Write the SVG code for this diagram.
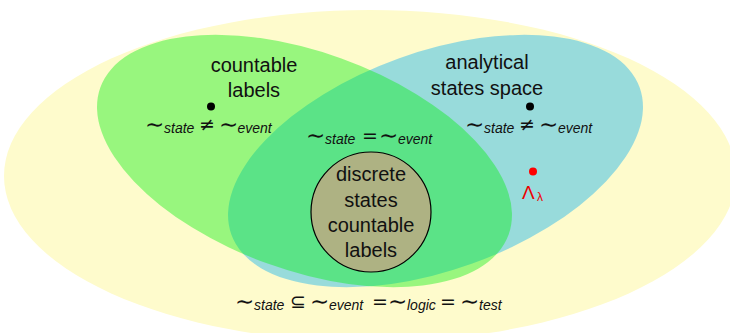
<svg xmlns="http://www.w3.org/2000/svg" width="730" height="333" viewBox="0 0 730 333">
<style>
text{font-family:"Liberation Sans","DejaVu Sans",sans-serif;fill:#111;}
.lbl{font-size:20px;text-anchor:middle;}
.op{font-family:"DejaVu Sans",sans-serif;font-size:19px;}
.t{font-family:"DejaVu Sans",sans-serif;font-size:23px;}
.sub{font-size:14px;font-style:italic;}
.dot{fill:#000;}
</style>
<rect width="730" height="333" fill="#ffffff"/>
<g id="universe"><ellipse cx="370" cy="176" rx="366" ry="166" fill="#fefbcc"/></g>
<g id="analytical"><ellipse cx="435.5" cy="161" rx="217" ry="109" transform="rotate(-19.8 435.5 161)" fill="rgb(0,172,242)" fill-opacity="0.4"/></g>
<g id="countable"><ellipse cx="304.5" cy="161" rx="217" ry="109" transform="rotate(19.8 304.5 161)" fill="rgb(0,240,10)" fill-opacity="0.4"/></g>
<g id="discrete">
<circle cx="371" cy="212" r="60" fill="#aeb283" stroke="#000" stroke-width="1.2"/>
<text class="lbl" x="371" y="181">discrete</text>
<text class="lbl" x="371" y="207">states</text>
<text class="lbl" x="371" y="232">countable</text>
<text class="lbl" x="371" y="257">labels</text>
</g>
<g id="countable-labels">
<text class="lbl" x="254" y="72">countable</text>
<text class="lbl" x="254" y="97">labels</text>
<circle class="dot" cx="211" cy="106.5" r="4"/>
<text><tspan class="t" x="145" y="132">∼</tspan><tspan class="sub" x="164" y="133">state</tspan><tspan class="op" x="199" y="131">≠</tspan><tspan class="t" x="219" y="132">∼</tspan><tspan class="sub" x="237.5" y="133">event</tspan></text>
</g>
<g id="analytical-space">
<text class="lbl" x="487" y="69">analytical</text>
<text class="lbl" x="487" y="95">states space</text>
<circle class="dot" cx="530" cy="106.5" r="4"/>
<text><tspan class="t" x="465" y="132">∼</tspan><tspan class="sub" x="484" y="133">state</tspan><tspan class="op" x="519" y="131">≠</tspan><tspan class="t" x="539" y="132">∼</tspan><tspan class="sub" x="558" y="133">event</tspan></text>
</g>
<g id="intersection">
<text><tspan class="t" x="306" y="143">∼</tspan><tspan class="sub" x="325" y="144">state</tspan><tspan class="op" x="362" y="142">=</tspan><tspan class="t" x="379" y="143">∼</tspan><tspan class="sub" x="398" y="144">event</tspan></text>
</g>
<g id="lambda">
<circle cx="533" cy="171.5" r="4" fill="#f00"/>
<text style="fill:#e00"><tspan x="522" y="199" font-size="19">Λ</tspan><tspan x="537" y="201" font-size="12">λ</tspan></text>
</g>
<g id="relation">
<text><tspan class="t" x="235" y="309">∼</tspan><tspan class="sub" x="254" y="310">state</tspan><tspan class="op" x="290" y="308">⊆</tspan><tspan class="t" x="310" y="309">∼</tspan><tspan class="sub" x="329" y="310">event</tspan><tspan class="op" x="372" y="308">=</tspan><tspan class="t" x="388" y="309">∼</tspan><tspan class="sub" x="407" y="310">logic</tspan><tspan class="op" x="440" y="308">=</tspan><tspan class="t" x="460" y="309">∼</tspan><tspan class="sub" x="479" y="310">test</tspan></text>
</g>
<g id="connectors"></g>
</svg>
